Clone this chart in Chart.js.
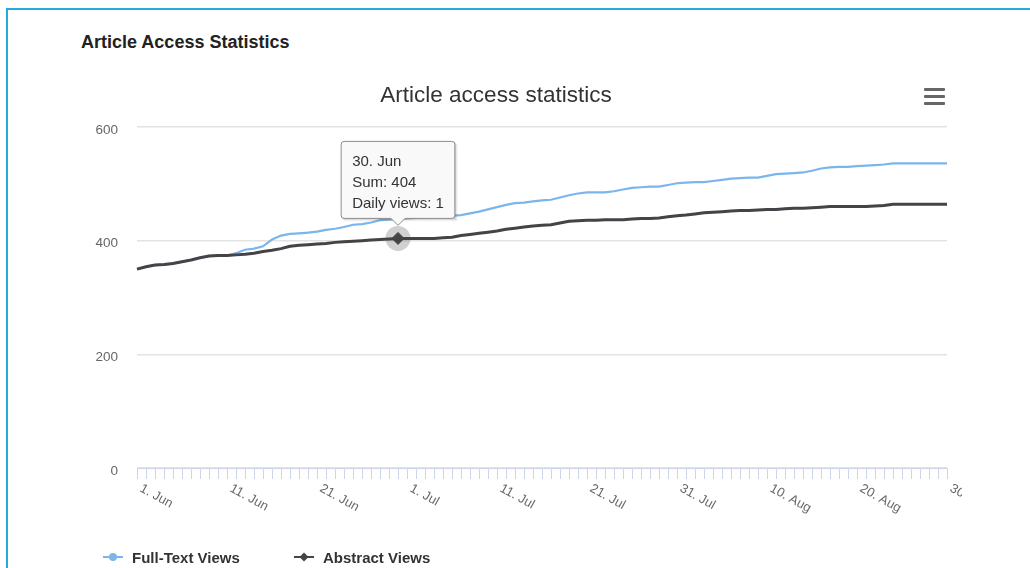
<!DOCTYPE html>
<html>
<head>
<meta charset="utf-8">
<script src="https://cdn.jsdelivr.net/npm/chart.js@4.4.1/dist/chart.umd.min.js"></script>
<style>
  html, body { margin:0; padding:0; width:1030px; height:568px; overflow:hidden; background:#fff;
    font-family:"Liberation Sans", Arial, sans-serif; }
  #card { position:absolute; left:6px; top:8px; width:1100px; height:700px;
    border-top:2px solid #27a8df; border-left:2px solid #27a8df; }
  #pageTitle { position:absolute; left:81px; top:32px; font-size:18px; font-weight:bold; color:#222; white-space:nowrap; }
  #chartWrap { position:absolute; left:30px; top:0; width:932px; height:568px; }
  #menu { position:absolute; left:924px; top:88px; width:21px; height:17px; }
  #menu div { position:absolute; left:0; width:21px; height:3px; background:#666; border-radius:1px; }
  .leg { position:absolute; top:548px; height:18px; display:flex; align-items:center; white-space:nowrap;
    font-size:15px; font-weight:bold; color:#333; }
  .leg svg { margin-right:9px; }
</style>
</head>
<body>
<div id="card"></div>
<div id="pageTitle">Article Access Statistics</div>
<div id="chartWrap"><canvas id="c" width="932" height="568"></canvas></div>
<div id="menu"><div style="top:0"></div><div style="top:7px"></div><div style="top:14px"></div></div>
<div id="legend"></div>
<script>
const categories = [
  '1. Jun','2. Jun','3. Jun','4. Jun','5. Jun','6. Jun','7. Jun','8. Jun','9. Jun','10. Jun',
  '11. Jun','12. Jun','13. Jun','14. Jun','15. Jun','16. Jun','17. Jun','18. Jun','19. Jun','20. Jun',
  '21. Jun','22. Jun','23. Jun','24. Jun','25. Jun','26. Jun','27. Jun','28. Jun','29. Jun','30. Jun',
  '1. Jul','2. Jul','3. Jul','4. Jul','5. Jul','6. Jul','7. Jul','8. Jul','9. Jul','10. Jul',
  '11. Jul','12. Jul','13. Jul','14. Jul','15. Jul','16. Jul','17. Jul','18. Jul','19. Jul','20. Jul',
  '21. Jul','22. Jul','23. Jul','24. Jul','25. Jul','26. Jul','27. Jul','28. Jul','29. Jul','30. Jul',
  '31. Jul','1. Aug','2. Aug','3. Aug','4. Aug','5. Aug','6. Aug','7. Aug','8. Aug','9. Aug',
  '10. Aug','11. Aug','12. Aug','13. Aug','14. Aug','15. Aug','16. Aug','17. Aug','18. Aug','19. Aug',
  '20. Aug','21. Aug','22. Aug','23. Aug','24. Aug','25. Aug','26. Aug','27. Aug','28. Aug','29. Aug',
  '30. Aug'
];
const xTickLabels = ['1. Jun','11. Jun','21. Jun','1. Jul','11. Jul','21. Jul','31. Jul','10. Aug','20. Aug','30. Aug'];
const yTicks = [0, 200, 400, 600];

const fullTextViews = [
  350,354,357,358,360,363,366,370,373,374,
  374,378,384,386,390,402,409,412,413,414,
  416,419,421,424,428,429,432,436,437,438,
  439,440,441,442,443,444,445,448,451,455,
  459,463,466,467,469,471,472,476,480,483,
  485,485,485,487,490,493,494,495,495,498,
  501,502,503,503,505,507,509,510,511,511,
  514,517,518,519,520,523,527,529,530,530,
  531,532,533,534,536,536,536,536,536,536,
  536
];
const abstractViews = [
  350,354,357,358,360,363,366,370,373,374,
  374,375,376,378,381,383,386,390,392,393,
  394,395,397,398,399,400,401,402,403,404,
  404,404,404,404,405,406,409,411,413,415,
  417,420,422,424,426,427,428,431,434,435,
  436,436,437,437,437,438,439,439,440,442,
  444,445,447,449,450,451,452,453,453,454,
  455,455,456,457,457,458,459,460,460,460,
  460,460,461,462,464,464,464,464,464,464,
  464
];
const seriesNames = ['Full-Text Views', 'Abstract Views'];
const seriesColors = ['#7cb5ec', '#434348'];
const highlightIndex = 29;

const FONT = '"Liberation Sans", Arial, sans-serif';

const haloPlugin = {
  id: 'halo',
  beforeDatasetsDraw(chart) {
    const ctx = chart.ctx;
    chart.getActiveElements().forEach(a => {
      ctx.save();
      ctx.beginPath();
      ctx.arc(a.element.x, a.element.y, 12.5, 0, Math.PI * 2);
      ctx.fillStyle = 'rgba(67,67,72,0.25)';
      ctx.fill();
      ctx.restore();
    });
  }
};

const tooltipShadowPlugin = {
  id: 'tipShadow',
  beforeTooltipDraw(chart, args) {
    const t = args.tooltip, ctx = chart.ctx;
    if (!t.opacity) return;
    ctx.save();
    [[3, 0.04], [2, 0.07], [1, 0.10]].forEach(([o, a]) => {
      ctx.fillStyle = 'rgba(0,0,0,' + a + ')';
      ctx.fillRect(t.x + o, t.y + o, t.width, t.height);
    });
    ctx.restore();
  }
};

const xLabelPlugin = {
  id: 'xLabels',
  afterDatasetsDraw(chart) {
    const xs = chart.scales.x, ctx = chart.ctx;
    ctx.save();
    ctx.font = '13px ' + FONT;
    ctx.fillStyle = '#666';
    ctx.textAlign = 'left';
    ctx.textBaseline = 'top';
    xTickLabels.forEach(l => {
      const i = categories.indexOf(l);
      const x = xs.getPixelForValue(i);
      ctx.save();
      ctx.translate(x + 7, xs.top + 14);
      ctx.rotate(29 * Math.PI / 180);
      ctx.fillText(l, 0, 0);
      ctx.restore();
    });
    ctx.restore();
  }
};

const chart = new Chart(document.getElementById('c'), {
  type: 'line',
  data: {
    labels: categories,
    datasets: [
      { label: seriesNames[0], data: fullTextViews, borderColor: seriesColors[0], backgroundColor: seriesColors[0],
        borderWidth: 2.2, pointRadius: 0, pointHoverRadius: 4, pointStyle: 'circle', tension: 0, order: 1 },
      { label: seriesNames[1], data: abstractViews, borderColor: seriesColors[1], backgroundColor: seriesColors[1],
        borderWidth: 3, pointRadius: 0, pointHoverRadius: 6, pointStyle: 'rectRot',
        pointHoverBackgroundColor: seriesColors[1], pointHoverBorderColor: seriesColors[1], pointHoverBorderWidth: 1,
        tension: 0, order: 0 }
    ]
  },
  options: {
    responsive: false,
    animation: false,
    events: [],
    layout: { padding: { left: 15, right: 15, top: 0, bottom: 0 } },
    plugins: {
      legend: { display: false },
      title: {
        display: true, text: 'Article access statistics', color: '#333',
        font: { family: FONT, size: 22.5, weight: 'normal', lineHeight: 1.2 },
        padding: { top: 82, bottom: 18 }
      },
      tooltip: {
        backgroundColor: '#f9f9f9',
        borderColor: '#8c8c8c', borderWidth: 1,
        titleColor: '#333', bodyColor: '#333',
        titleFont: { family: FONT, size: 15, weight: 'normal' },
        bodyFont: { family: FONT, size: 15, weight: 'normal' },
        titleMarginBottom: 3, bodySpacing: 3,
        padding: { left: 11, right: 11, top: 11, bottom: 6 },
        caretSize: 7, caretPadding: 13, cornerRadius: 3,
        displayColors: false, xAlign: 'center', yAlign: 'bottom',
        callbacks: {
          title: items => categories[items[0].dataIndex],
          label: ctx => {
            const d = ctx.dataset.data, i = ctx.dataIndex;
            const daily = i > 0 ? d[i] - d[i - 1] : d[i];
            return ['Sum: ' + d[i], 'Daily views: ' + daily];
          }
        }
      }
    },
    scales: {
      x: {
        type: 'category',
        ticks: { display: false, autoSkip: false },
        grid: { display: true, drawOnChartArea: false, drawTicks: true, tickLength: 11, color: '#ccd6eb', lineWidth: 1 },
        border: { display: true, color: '#ccd6eb', width: 1 },
        afterFit: s => { s.height = 100; }
      },
      y: {
        min: 0, max: 600,
        afterBuildTicks: s => { s.ticks = yTicks.map(v => ({ value: v })); },
        afterFit: s => { s.width = 92; },
        grid: { color: '#e3e3e3', lineWidth: 1.5, drawTicks: false },
        border: { display: false },
        ticks: { color: '#666', font: { family: FONT, size: 13.5 }, padding: 19, labelOffset: 3 }
      }
    }
  },
  plugins: [haloPlugin, tooltipShadowPlugin, xLabelPlugin]
});

const active = [{ datasetIndex: 1, index: highlightIndex }];
chart.setActiveElements(active);
chart.tooltip.setActiveElements(active, { x: 0, y: 0 });
chart.update();

// legend built from dataset names/colors
const legendPos = [103, 294];
const legend = document.getElementById('legend');
seriesNames.forEach((name, i) => {
  const item = document.createElement('div');
  item.className = 'leg';
  item.style.left = legendPos[i] + 'px';
  const marker = i === 0
    ? `<circle cx="10" cy="6" r="4" fill="${seriesColors[i]}"/>`
    : `<path d="M10 1.5 L14.5 6 L10 10.5 L5.5 6 Z" fill="${seriesColors[i]}"/>`;
  item.innerHTML = `<svg width="20" height="12" viewBox="0 0 20 12"><line x1="0" y1="6" x2="20" y2="6" stroke="${seriesColors[i]}" stroke-width="2"/>${marker}</svg><span>${name}</span>`;
  legend.appendChild(item);
});
</script>
</body>
</html>
